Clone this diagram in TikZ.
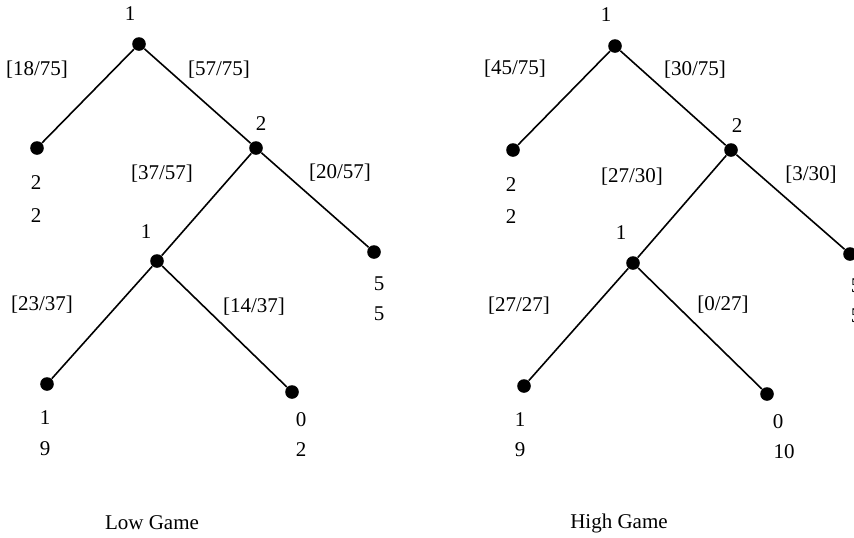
\documentclass[tikz,border=0pt]{standalone}
\usepackage{fontspec}
\setmainfont{Liberation Serif}
\begin{document}
\begin{tikzpicture}[x=0.5pt,y=-0.5pt,
  dot/.style={circle,fill=black,inner sep=0pt,minimum size=6.8pt},
  edge/.style={line width=0.8pt,black},
  lbl/.style={inner sep=0pt,font=\fontsize{10.5}{12}\selectfont}]
\clip (0,0) rectangle (854,537);
\useasboundingbox (0,0) rectangle (854,537);
% ---------- Low Game ----------
\node[dot] (La) at (139,44) {};
\node[dot] (Lb) at (37,148) {};
\node[dot] (Lc) at (256,148) {};
\node[dot] (Ld) at (374,252) {};
\node[dot] (Le) at (157,261) {};
\node[dot] (Lf) at (47,384) {};
\node[dot] (Lg) at (292,392) {};
\draw[edge] (La) -- (Lb);
\draw[edge] (La) -- (Lc);
\draw[edge] (Lc) -- (Le);
\draw[edge] (Lc) -- (Ld);
\draw[edge] (Le) -- (Lf);
\draw[edge] (Le) -- (Lg);
\node[lbl] (Lpa) at (130,14) {1};
\node[lbl] (Lpc) at (261,124) {2};
\node[lbl] (Lpe) at (146,232) {1};
\node[lbl] (Le1) at (37,70) {[18/75]};
\node[lbl] (Le2) at (219,70) {[57/75]};
\node[lbl] (Le3) at (162,174) {[37/57]};
\node[lbl] (Le4) at (340,173) {[20/57]};
\node[lbl] (Le5) at (42,305) {[23/37]};
\node[lbl] (Le6) at (254,307) {[14/37]};
\node[lbl] (Lb1) at (36,183) {2};
\node[lbl] (Lb2) at (36,216) {2};
\node[lbl] (Ld1) at (379,284) {5};
\node[lbl] (Ld2) at (379,314) {5};
\node[lbl] (Lf1) at (45,418) {1};
\node[lbl] (Lf2) at (45,449) {9};
\node[lbl] (Lg1) at (301,420) {0};
\node[lbl] (Lg2) at (301,450) {2};
\node[lbl] (Lt) at (152,523) {Low Game};
% ---------- High Game ----------
\node[dot] (Ha) at (615,46) {};
\node[dot] (Hb) at (513,150) {};
\node[dot] (Hc) at (731,150) {};
\node[dot] (Hd) at (850,254) {};
\node[dot] (He) at (633,263) {};
\node[dot] (Hf) at (524,386) {};
\node[dot] (Hg) at (767,394) {};
\draw[edge] (Ha) -- (Hb);
\draw[edge] (Ha) -- (Hc);
\draw[edge] (Hc) -- (He);
\draw[edge] (Hc) -- (Hd);
\draw[edge] (He) -- (Hf);
\draw[edge] (He) -- (Hg);
\node[lbl] (Hpa) at (606,15) {1};
\node[lbl] (Hpc) at (737,126) {2};
\node[lbl] (Hpe) at (621,233) {1};
\node[lbl] (He1) at (515,69) {[45/75]};
\node[lbl] (He2) at (695,70) {[30/75]};
\node[lbl] (He3) at (632,177) {[27/30]};
\node[lbl] (He4) at (811,175) {[3/30]};
\node[lbl] (He5) at (519,306) {[27/27]};
\node[lbl] (He6) at (723,305) {[0/27]};
\node[lbl] (Hb1) at (511,185) {2};
\node[lbl] (Hb2) at (511,217) {2};
\node[lbl] (Hd1) at (856,286) {5};
\node[lbl] (Hd2) at (856,316) {5};
\node[lbl] (Hf1) at (520,420) {1};
\node[lbl] (Hf2) at (520,450) {9};
\node[lbl] (Hg1) at (778,422) {0};
\node[lbl] (Hg2) at (784,452) {10};
\node[lbl] (Ht) at (619,523) {High Game};
\end{tikzpicture}
\end{document}
